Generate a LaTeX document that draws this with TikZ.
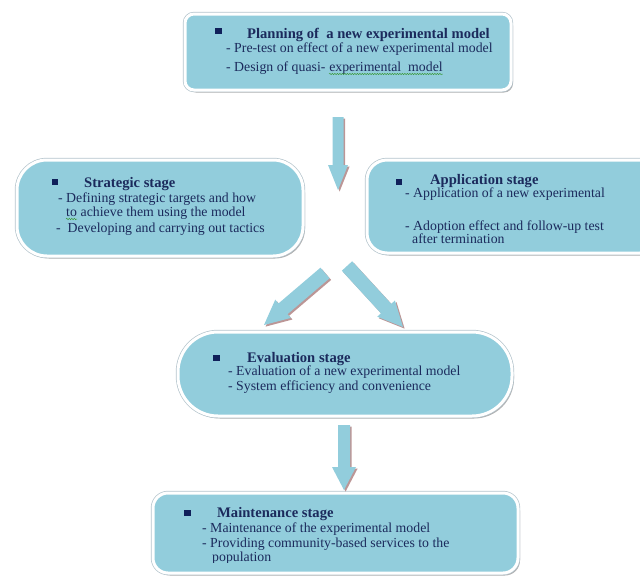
\documentclass[tikz,border=0pt]{standalone}
\usepackage{fontspec}
\setmainfont{Liberation Serif}
\usetikzlibrary{calc, shadows, decorations.pathmorphing}

\definecolor{boxfill}{HTML}{92CDDC}
\definecolor{arrowshade}{HTML}{BC9696}
\definecolor{inknavy}{HTML}{1B2A5C}
\definecolor{bulletnavy}{HTML}{10205A}
\definecolor{rimgray}{HTML}{B4C4CC}
\definecolor{spellgreen}{HTML}{3C9A3C}

\tikzset{
  stagebox/.style={drop shadow={shadow xshift=2pt, shadow yshift=-2.5pt, fill=black, opacity=0.3},
    preaction={draw=rimgray, line width=4.4pt},
    fill=boxfill, draw=white, line width=3pt, rounded corners=#1, inner sep=0pt},
  stagetitle/.style={anchor=base west, inner sep=0pt, text=inknavy,
    font=\fontsize{14.6}{16}\selectfont\bfseries},
  stageline/.style={anchor=base west, inner sep=0pt, text=inknavy,
    font=\fontsize{13.8}{15}\selectfont},
  bulletsq/.style={fill=bulletnavy, minimum size=6.5pt, inner sep=0pt},
  spellwave/.style={draw=spellgreen, line width=0.5pt, decorate,
    decoration={snake, amplitude=0.7pt, segment length=2.5pt}}
}

% block arrow: tail, tip, shaft half width, head half width, head length
\newcommand{\blockarrow}[5]{%
  \coordinate (#2-hb) at ($(#2)!#5!(#1)$);
  \foreach \off/\col in {1.6/arrowshade, 0/boxfill}
    \fill[\col, transform canvas={shift={(\off pt,-\off pt)}}]
      ($(#1)!#3!90:(#2)$) -- ($(#2-hb)!#3!-90:(#1)$) -- ($(#2-hb)!#4!-90:(#1)$)
      -- (#2) -- ($(#2-hb)!#4!90:(#1)$) -- ($(#2-hb)!#3!90:(#1)$)
      -- ($(#1)!#3!-90:(#2)$) -- cycle;
}

\begin{document}
\begin{tikzpicture}[x=1pt, y=-1pt]
  \useasboundingbox (0,0) rectangle (640,579);
  \clip (0,0) rectangle (640,579);

  % stage boxes
  \node[stagebox=9pt, minimum width=326pt, minimum height=76pt] (plan) at (348,52) {};
  \node[stagebox=30pt, minimum width=286pt, minimum height=96pt] (strat) at (160,208) {};
  \node[stagebox=20pt, minimum width=293pt, minimum height=93pt] (appl) at (513.5,206.5) {};
  \node[stagebox=40pt, minimum width=334pt, minimum height=84pt] (eval) at (345,374) {};
  \node[stagebox=15pt, minimum width=365pt, minimum height=80pt] (maint) at (335.5,533) {};

  % planning
  \node[bulletsq] (plan-b) at (218.5,31) {};
  \node[stagetitle] (plan-t) at (247,38) {Planning of \ a new experimental model};
  \node[stageline] (plan-1) at (226,52) {- Pre-test on effect of a new experimental model};
  \node[stageline] (plan-2a) at (226,71) {- Design of quasi-};
  \node[stageline] (plan-2b) at ([xshift=3.4pt]plan-2a.base east) {experimental \ model};
  \draw[spellwave] ([yshift=-3pt]plan-2b.base west) -- ([yshift=-3pt]plan-2b.base east);

  % strategic
  \node[bulletsq] (strat-b) at (55,182) {};
  \node[stagetitle] (strat-t) at (84,187) {Strategic stage};
  \node[stageline] (strat-1) at (58,202) {- Defining strategic targets and how};
  \node[stageline] (strat-2a) at (66,216) {to};
  \node[stageline] (strat-2b) at ([xshift=3.4pt]strat-2a.base east) {achieve them using the model};
  \draw[spellwave] ([yshift=-3pt]strat-2a.base west) -- ([yshift=-3pt]strat-2a.base east);
  \node[stageline] (strat-3) at (56,232) {- \ Developing and carrying out tactics};

  % application
  \node[bulletsq] (appl-b) at (399,182) {};
  \node[stagetitle] (appl-t) at (430,184) {Application stage};
  \node[stageline] (appl-1) at (405,197) {- Application of a new experimental};
  \node[stageline] (appl-2) at (405,230) {- Adoption effect and follow-up test};
  \node[stageline] (appl-3) at (412,243) {after termination};

  % evaluation
  \node[bulletsq] (eval-b) at (216.5,358) {};
  \node[stagetitle] (eval-t) at (247,362) {Evaluation stage};
  \node[stageline] (eval-1) at (228,375) {- Evaluation of a new experimental model};
  \node[stageline] (eval-2) at (228,390) {- System efficiency and convenience};

  % maintenance
  \node[bulletsq] (maint-b) at (187.5,513) {};
  \node[stagetitle] (maint-t) at (217,517) {Maintenance stage};
  \node[stageline] (maint-1) at (202,532) {- Maintenance of the experimental model};
  \node[stageline] (maint-2) at (202,547) {- Providing community-based services to the};
  \begin{scope}
    \clip (150,550) rectangle (520,562);
    \node[stageline] (maint-3) at (212,561) {population};
  \end{scope}

  % block arrows
  \coordinate (a1-tail) at (338,117);
  \coordinate (a1-tip) at (338,190);
  \coordinate (a2-tail) at (325,273);
  \coordinate (a2-tip) at (264,325);
  \coordinate (a3-tail) at (347,266);
  \coordinate (a3-tip) at (403,327);
  \coordinate (a4-tail) at (344,425);
  \coordinate (a4-tip) at (344,490);
  \blockarrow{a1-tail}{a1-tip}{5.5pt}{10pt}{25pt}
  \blockarrow{a2-tail}{a2-tip}{7pt}{12pt}{25pt}
  \blockarrow{a3-tail}{a3-tip}{7pt}{12pt}{25pt}
  \blockarrow{a4-tail}{a4-tip}{6pt}{12pt}{23pt}
\end{tikzpicture}
\end{document}
